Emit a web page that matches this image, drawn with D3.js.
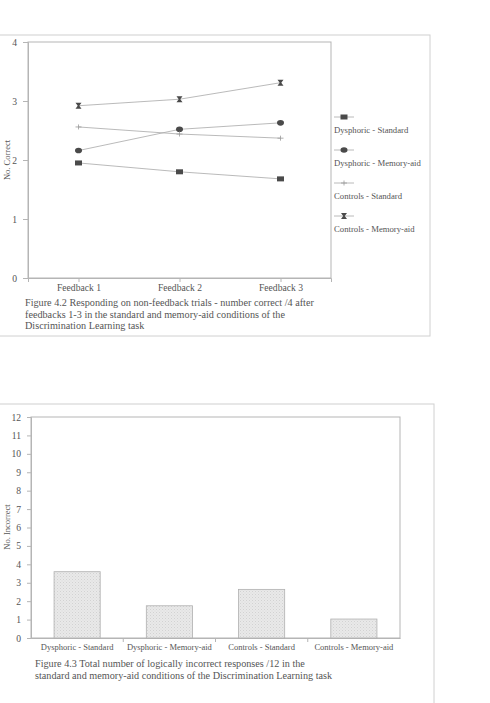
<!DOCTYPE html>
<html>
<head>
<meta charset="utf-8">
<script src="https://cdn.jsdelivr.net/npm/d3@7"></script>
<style>
  body { margin: 0; background: #fff; }
  svg text { font-family: "Liberation Serif", "DejaVu Serif", serif; fill: #555; }
</style>
</head>
<body>
<svg width="490" height="703"></svg>
<script>
// Figure 4.2 data - number correct /4
var feedbackLabels = ["Feedback 1", "Feedback 2", "Feedback 3"];
var seriesNames = ["Dysphoric - Standard", "Dysphoric - Memory-aid", "Controls - Standard", "Controls - Memory-aid"];
var dysphoricStandard = [1.95, 1.80, 1.68];
var dysphoricMemory = [2.16, 2.52, 2.63];
var controlsStandard = [2.56, 2.44, 2.37];
var controlsMemory = [2.92, 3.03, 3.31];
var correctTicks = [0, 1, 2, 3, 4];

// Figure 4.3 data - incorrect responses /12
var barLabels = ["Dysphoric - Standard", "Dysphoric - Memory-aid", "Controls - Standard", "Controls - Memory-aid"];
var barValues = [3.6, 1.75, 2.64, 1.03];
var incorrectTicks = [0, 1, 2, 3, 4, 5, 6, 7, 8, 9, 10, 11, 12];

var svg = d3.select("svg");
var lineCol = "#b5b5b5", markCol = "#4a4a4a";

// pattern for the bars (scanned hatch look)
var pat = svg.append("defs").append("pattern")
    .attr("id", "hatch").attr("width", 3).attr("height", 3)
    .attr("patternUnits", "userSpaceOnUse");
pat.append("rect").attr("width", 3).attr("height", 3).attr("fill", "#e9e9e9");
pat.append("rect").attr("width", 1).attr("height", 1).attr("fill", "#d2d2d2");
pat.append("rect").attr("x", 1.5).attr("y", 1.5).attr("width", 1).attr("height", 1).attr("fill", "#dadada");

// ---------- Figure 4.2 ----------
svg.append("rect").attr("x", -1).attr("y", 35).attr("width", 431).attr("height", 301)
    .attr("fill", "none").attr("stroke", "#d0d0d0");

var m1 = {left: 28, top: 42, right: 331, bottom: 278};
var x1 = d3.scalePoint().domain(feedbackLabels).range([m1.left, m1.right]).padding(0.5);
var y1 = d3.scaleLinear().domain([0, 4]).range([m1.bottom, m1.top]);

var g1 = svg.append("g");
g1.append("rect").attr("x", m1.left).attr("y", m1.top)
    .attr("width", m1.right - m1.left).attr("height", m1.bottom - m1.top)
    .attr("fill", "none").attr("stroke", lineCol);

var yAx1 = g1.append("g").attr("transform", "translate(" + m1.left + ",0)")
    .call(d3.axisLeft(y1).tickValues(correctTicks).tickSize(5).tickPadding(6).tickFormat(d3.format("d")));
var xAx1 = g1.append("g").attr("transform", "translate(0," + m1.bottom + ")")
    .call(d3.axisBottom(x1).tickSize(4).tickPadding(2));
[yAx1, xAx1].forEach(function(a) {
    a.select(".domain").attr("stroke", lineCol);
    a.selectAll("line").attr("stroke", lineCol);
    a.selectAll("text").style("font-size", "9.6px").attr("fill", "#555");
});

g1.append("text").attr("transform", "translate(10,160) rotate(-90)")
    .attr("text-anchor", "middle").style("font-size", "8.5px").text("No. Correct");

function marker(sel, type) {
    if (type === 0) sel.append("rect").attr("x", -3.5).attr("y", -2.5).attr("width", 7).attr("height", 5).attr("fill", markCol);
    else if (type === 1) sel.append("ellipse").attr("rx", 3.5).attr("ry", 2.8).attr("fill", markCol);
    else if (type === 2) sel.append("path").attr("d", "M-3,0H3M0,-2.5V2.5").attr("stroke", "#999").attr("stroke-width", 0.8);
    else sel.append("path").attr("d", "M-3,-3H3L0.8,0L3,3H-3L-0.8,0Z").attr("fill", markCol);
}

var allSeries = [dysphoricStandard, dysphoricMemory, controlsStandard, controlsMemory];
var line1 = d3.line().x(function(d, i) { return x1(feedbackLabels[i]); }).y(function(d) { return y1(d); });

allSeries.forEach(function(vals, s) {
    g1.append("path").datum(vals).attr("d", line1)
        .attr("fill", "none").attr("stroke", "#a8a8a8").attr("stroke-width", 0.8);
    g1.selectAll(".pt" + s).data(vals).enter().append("g")
        .attr("transform", function(d, i) { return "translate(" + x1(feedbackLabels[i]) + "," + y1(d) + ")"; })
        .each(function() { marker(d3.select(this), s); });
});

// legend
var leg = g1.append("g").attr("transform", "translate(334,117)");
seriesNames.forEach(function(name, i) {
    var it = leg.append("g").attr("transform", "translate(0," + (i * 33) + ")");
    it.append("line").attr("x1", 0).attr("x2", 20).attr("stroke", "#a8a8a8").attr("stroke-width", 0.8);
    marker(it.append("g").attr("transform", "translate(10,0)"), i);
    it.append("text").attr("x", 0).attr("y", 16).style("font-size", "8.7px").text(name);
});

// caption
var cap1 = ["Figure 4.2 Responding on non-feedback trials - number correct /4 after",
            "feedbacks 1-3 in the standard and memory-aid conditions of the",
            "Discrimination Learning task"];
svg.append("g").selectAll("text").data(cap1).enter().append("text")
    .attr("x", 25).attr("y", function(d, i) { return 306 + i * 11.5; })
    .style("font-size", "10.2px").text(function(d) { return d; });

// ---------- Figure 4.3 ----------
svg.append("rect").attr("x", -1).attr("y", 404).attr("width", 435).attr("height", 320)
    .attr("fill", "none").attr("stroke", "#d0d0d0");

var m2 = {left: 31, top: 417, right: 400, bottom: 638};
var x2 = d3.scaleBand().domain(barLabels).range([m2.left, m2.right]).paddingInner(0.5).paddingOuter(0.25);
var y2 = d3.scaleLinear().domain([0, 12]).range([m2.bottom, m2.top]);

var g2 = svg.append("g");
g2.append("rect").attr("x", m2.left).attr("y", m2.top)
    .attr("width", m2.right - m2.left).attr("height", m2.bottom - m2.top)
    .attr("fill", "none").attr("stroke", lineCol);

var yAx2 = g2.append("g").attr("transform", "translate(" + m2.left + ",0)")
    .call(d3.axisLeft(y2).tickValues(incorrectTicks).tickSize(4).tickPadding(6).tickFormat(d3.format("d")));
var xAx2 = g2.append("g").attr("transform", "translate(0," + m2.bottom + ")")
    .call(d3.axisBottom(x2).tickSize(0).tickPadding(6));
[yAx2, xAx2].forEach(function(a) {
    a.select(".domain").attr("stroke", lineCol);
    a.selectAll("line").attr("stroke", lineCol);
    a.selectAll("text").attr("fill", "#555");
});
yAx2.selectAll("text").style("font-size", "9.6px");
xAx2.selectAll("text").style("font-size", "8.5px");

// tick marks between categories
var step = x2.step();
g2.selectAll(".sep").data(barLabels.slice(1)).enter().append("line")
    .attr("x1", function(d) { return x2(d) - (step - x2.bandwidth()) / 2; })
    .attr("x2", function(d) { return x2(d) - (step - x2.bandwidth()) / 2; })
    .attr("y1", m2.bottom).attr("y2", m2.bottom + 4).attr("stroke", lineCol);

g2.selectAll(".bar").data(barValues).enter().append("rect")
    .attr("x", function(d, i) { return x2(barLabels[i]); })
    .attr("y", function(d) { return y2(d); })
    .attr("width", x2.bandwidth())
    .attr("height", function(d) { return m2.bottom - y2(d); })
    .attr("fill", "url(#hatch)").attr("stroke", "#b0b0b0").attr("stroke-width", 0.8);

g2.append("text").attr("transform", "translate(10,527) rotate(-90)")
    .attr("text-anchor", "middle").style("font-size", "8.5px").text("No. Incorrect");

var cap2 = ["Figure 4.3 Total number of logically incorrect responses /12 in the",
            "standard and memory-aid conditions of the Discrimination Learning task"];
svg.append("g").selectAll("text").data(cap2).enter().append("text")
    .attr("x", 35).attr("y", function(d, i) { return 667 + i * 12; })
    .style("font-size", "10.2px").text(function(d) { return d; });
</script>
</body>
</html>
